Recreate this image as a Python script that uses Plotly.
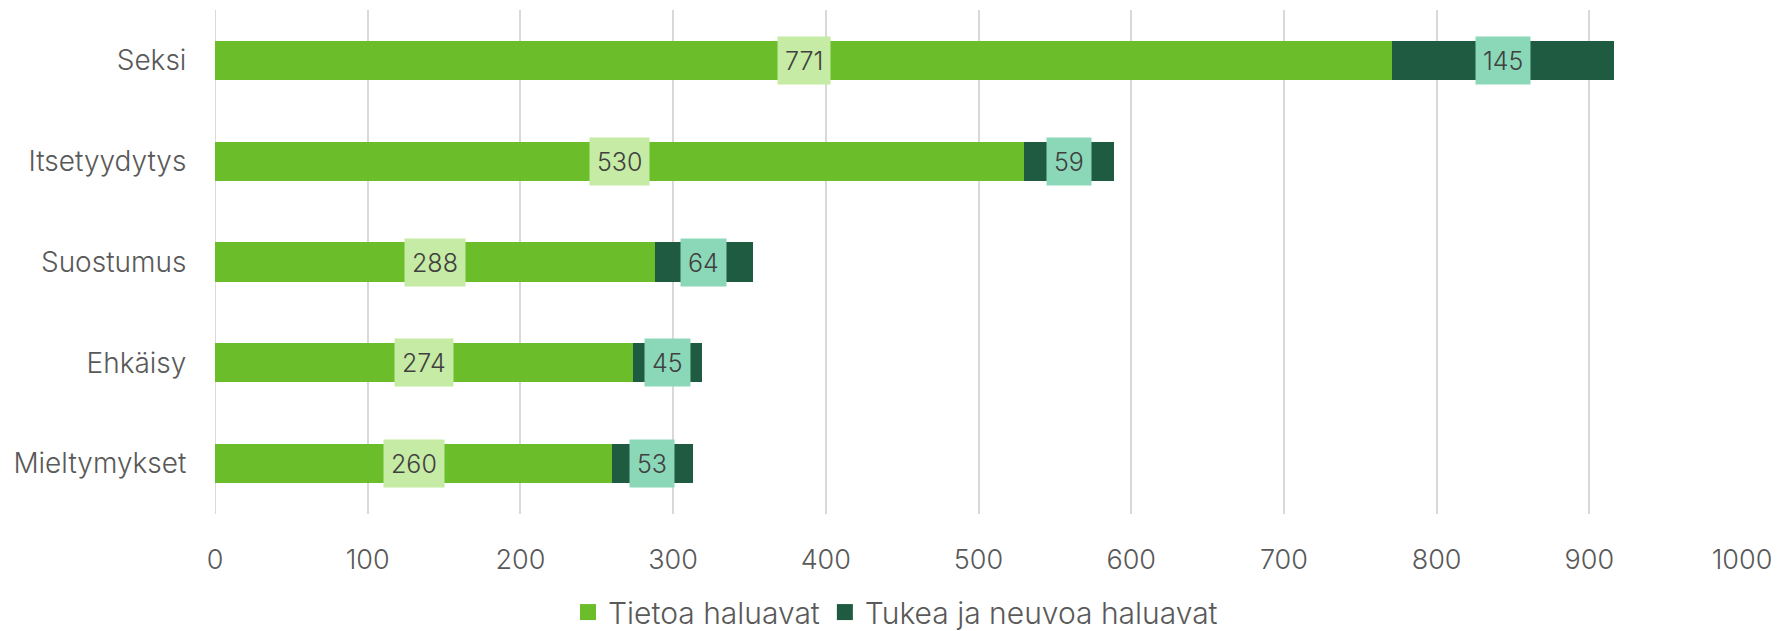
import plotly.graph_objects as go

categories = ["Seksi", "Itsetyydytys", "Suostumus", "Ehkäisy", "Mieltymykset"]
tietoa = [771, 530, 288, 274, 260]
tukea = [145, 59, 64, 45, 53]
series_names = ["Tietoa haluavat", "Tukea ja neuvoa haluavat"]
x_ticks = [0, 100, 200, 300, 400, 500, 600, 700, 800, 900, 1000]

GREEN = "#6BBE2A"
DARK = "#1E5B40"
LIGHT_BOX = "#C6EBA4"
MINT_BOX = "#8BD8B8"
FONT = "Inter"
AX_SIZE = 27
W = 300

fig = go.Figure()
fig.add_trace(go.Bar(y=categories, x=tietoa, orientation="h", name=series_names[0],
                     marker=dict(color=GREEN, line=dict(width=0)), showlegend=False))
fig.add_trace(go.Bar(y=categories, x=tukea, orientation="h", name=series_names[1],
                     marker=dict(color=DARK, line=dict(width=0)), showlegend=False))
# legend entries with larger square swatches
for nm, col in zip(series_names, [GREEN, DARK]):
    fig.add_trace(go.Scatter(x=[None], y=[None], mode="markers", name=nm,
                             marker=dict(symbol="square", size=20, color=col)))

annotations = []
for cat, a, b in zip(categories, tietoa, tukea):
    annotations.append(dict(x=a / 2, y=cat, xref="x", yref="y", text=str(a), showarrow=False,
                            bgcolor=LIGHT_BOX, borderpad=7, height=33,
                            font=dict(family=FONT, size=25, color="#404040", weight=W)))
    annotations.append(dict(x=a + b / 2, y=cat, xref="x", yref="y", text=str(b), showarrow=False,
                            bgcolor=MINT_BOX, borderpad=7, height=33,
                            font=dict(family=FONT, size=25, color="#404040", weight=W)))

fig.update_layout(
    barmode="stack",
    bargap=0.61,
    width=1791, height=631,
    margin=dict(l=215, r=49, t=10, b=117),
    plot_bgcolor="white", paper_bgcolor="white",
    font=dict(family=FONT, size=AX_SIZE, color="#595959", weight=W),
    annotations=annotations,
    showlegend=True,
    legend=dict(orientation="h", xref="container", x=0.5, xanchor="center",
                yref="container", y=0.03, yanchor="middle",
                font=dict(family=FONT, size=30, color="#595959", weight=W),
                traceorder="normal", itemsizing="trace"),
    xaxis=dict(range=[0, 1000], tickvals=x_ticks, showgrid=True, gridcolor="#D9D9D9", gridwidth=2,
               zeroline=False, showline=False, ticks="outside", ticklen=22, tickcolor="rgba(0,0,0,0)",
               tickfont=dict(family=FONT, size=AX_SIZE, color="#595959", weight=W), automargin=False),
    yaxis=dict(autorange="reversed", showgrid=False, zeroline=False, showline=False,
               ticks="outside", ticklen=22, tickcolor="rgba(0,0,0,0)",
               tickfont=dict(family=FONT, size=28, color="#595959", weight=W), automargin=False),
)
fig.add_shape(type="line", xref="x", yref="paper", x0=0, x1=0, y0=0, y1=1,
              line=dict(color="#D9D9D9", width=2), layer="below")

fig.write_html("out.html", config={"displayModeBar": False},
               post_script="document.body.style.margin='0';document.body.style.overflow='hidden';")
